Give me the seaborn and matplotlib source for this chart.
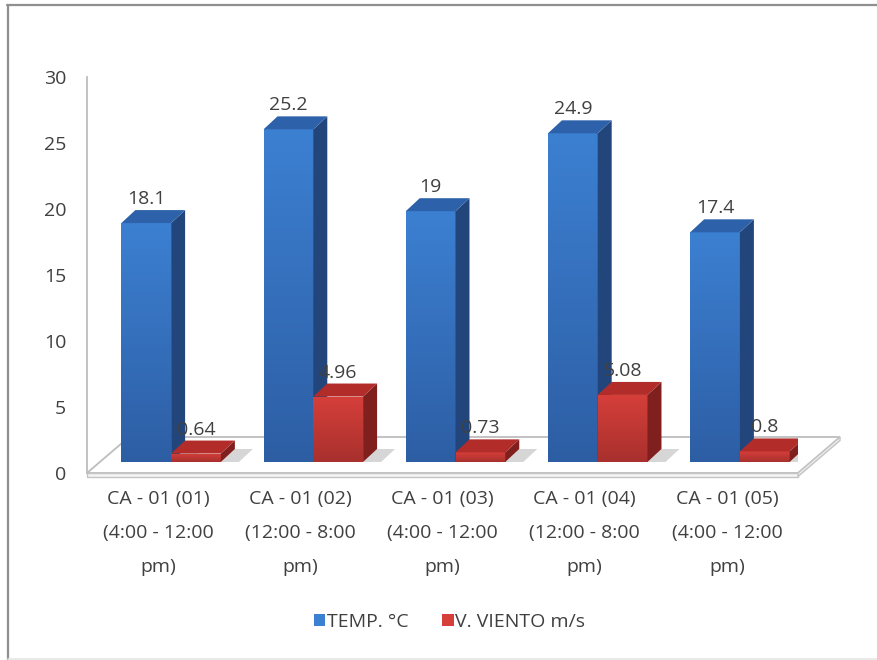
import numpy as np
import pandas as pd
import seaborn as sns
import matplotlib
matplotlib.use("Agg")
import matplotlib.pyplot as plt
import matplotlib.transforms as mtransforms
from matplotlib.patches import Polygon
from matplotlib.lines import Line2D
from matplotlib.colors import LinearSegmentedColormap

# ---- data ----
categorias = [
    "CA - 01 (01)\n(4:00 - 12:00\npm)",
    "CA - 01 (02)\n(12:00 - 8:00\npm)",
    "CA - 01 (03)\n(4:00 - 12:00\npm)",
    "CA - 01 (04)\n(12:00 - 8:00\npm)",
    "CA - 01 (05)\n(4:00 - 12:00\npm)",
]
series = ["TEMP. °C", "V. VIENTO m/s"]
temperatura = [18.1, 25.2, 19, 24.9, 17.4]
viento = [0.64, 4.96, 0.73, 5.08, 0.8]
yticks = [0, 5, 10, 15, 20, 25, 30]

df = pd.DataFrame({
    "categoria": categorias * 2,
    "serie": [series[0]] * len(categorias) + [series[1]] * len(categorias),
    "valor": temperatura + viento,
})

# ---- style ----
sns.set_theme(style="white")
plt.rcParams["font.family"] = ["Open Sans", "DejaVu Sans"]
TXT = "#404040"

# face colours: (front top, front bottom, side, top)
estilos = {
    series[0]: ("#3c80d2", "#2d5ea4", "#22467c", "#2d62aa"),
    series[1]: ("#d63f3a", "#a8302d", "#7f201e", "#b22c29"),
}

fig = plt.figure(figsize=(8.77, 6.6), dpi=100)
ax = fig.add_axes([87 / 877, (660 - 473) / 660, 711 / 877, 396 / 660])

sns.barplot(data=df, x="categoria", y="valor", hue="serie",
            palette=[estilos[s][0] for s in series], saturation=1,
            width=0.70, linewidth=0, ax=ax)

XLIM = (-0.5, 4.5)
YLIM = (0, 30)
px_x = 711 / (XLIM[1] - XLIM[0])   # pixels per category unit
px_y = 396 / (YLIM[1] - YLIM[0])   # pixels per value unit

# bars stand partway into the floor depth
shift = mtransforms.Affine2D().translate(13 / px_x, 11 / px_y) + ax.transData
dx, dy = 14 / px_x, 13 / px_y          # depth of each bar
fx, fy = 42 / px_x, 36 / px_y          # depth of the floor

# floor slab
floor_top = Polygon([(XLIM[0], 0), (XLIM[1], 0), (XLIM[1] + fx, fy), (XLIM[0] + fx, fy)],
                    closed=True, facecolor="white", edgecolor="#bdbdbd", lw=1.3,
                    transform=ax.transData, clip_on=False, zorder=1)
ax.add_patch(floor_top)
th = 3.5 / px_y
floor_front = Polygon([(XLIM[0], 0), (XLIM[1], 0), (XLIM[1], -th), (XLIM[0], -th)],
                      closed=True, facecolor="#f4f4f4", edgecolor="#c4c4c4", lw=1.0,
                      transform=ax.transData, clip_on=False, zorder=1)
ax.add_patch(floor_front)
floor_side = Polygon([(XLIM[1], 0), (XLIM[1] + fx, fy), (XLIM[1] + fx, fy - th), (XLIM[1], -th)],
                     closed=True, facecolor="#ececec", edgecolor="#c4c4c4", lw=1.0,
                     transform=ax.transData, clip_on=False, zorder=1)
ax.add_patch(floor_side)

grad = np.linspace(0, 1, 256).reshape(-1, 1)

for k, (serie, cont) in enumerate(zip(series, ax.containers)):
    c_top, c_bot, c_side, c_lid = estilos[serie]
    cmap = LinearSegmentedColormap.from_list(serie, [c_bot, c_top])
    for bar in cont:
        x0, w, h = bar.get_x(), bar.get_width(), bar.get_height()
        z = 3 + k
        # soft shadow on the floor
        sw = 18 / px_x
        sh = Polygon([(x0 + w, 0), (x0 + w + sw, 0), (x0 + w + sw + dx, dy), (x0 + w + dx, dy)],
                     closed=True, facecolor="#d6d6d6", edgecolor="none",
                     transform=shift, zorder=2)
        ax.add_patch(sh)
        bar.set_transform(shift)
        bar.set_zorder(z)
        im = ax.imshow(grad, extent=(x0, x0 + w, 0, h), origin="lower", cmap=cmap,
                       aspect="auto", transform=shift, zorder=z + 0.01,
                       interpolation="bilinear")
        im.set_clip_path(bar)
        side = Polygon([(x0 + w, 0), (x0 + w + dx, dy), (x0 + w + dx, h + dy), (x0 + w, h)],
                       closed=True, facecolor=c_side, edgecolor="none",
                       transform=shift, zorder=z + 0.02)
        ax.add_patch(side)
        lid = Polygon([(x0, h), (x0 + w, h), (x0 + w + dx, h + dy), (x0 + dx, h + dy)],
                      closed=True, facecolor=c_lid, edgecolor="none",
                      transform=shift, zorder=z + 0.03)
        ax.add_patch(lid)
        ax.annotate(f"{h:g}", xy=(x0 + w / 2, h), xycoords=shift,
                    xytext=(0, 13.7), textcoords="offset points",
                    ha="center", va="baseline", fontsize=14, color=TXT, zorder=10)

# ---- axes ----
ax.set_xlim(*XLIM)
ax.set_ylim(*YLIM)
ax.set_facecolor("none")
ax.set_xlabel("")
ax.set_ylabel("")
ax.set_yticks(yticks)
ax.set_yticklabels([str(t) for t in yticks])
ax.set_xticks(range(len(categorias)))
ax.set_xticklabels(categorias, linespacing=2.15)
ax.tick_params(axis="y", length=0, pad=15, labelsize=14, labelcolor=TXT)
ax.tick_params(axis="x", length=0, pad=12, labelsize=14, labelcolor=TXT)
for s in ["top", "right", "bottom"]:
    ax.spines[s].set_visible(False)
ax.spines["left"].set_color("#bdbdbd")
ax.spines["left"].set_linewidth(1.3)

leg = ax.get_legend()
handles = leg.legend_handles
labels = [t.get_text() for t in leg.get_texts()]
leg.remove()
ax.legend(handles, labels, loc="center", bbox_to_anchor=(449.5 / 877, (660 - 622) / 660),
          bbox_transform=fig.transFigure, ncol=2, frameon=False, fontsize=14,
          handlelength=0.6, handleheight=0.6, handletextpad=0.1, columnspacing=1.7,
          labelcolor=TXT)

# ---- outer frame ----
fig.add_artist(Line2D([7 / 877, 1], [1 - 4.5 / 660] * 2, transform=fig.transFigure,
                      color="#8f8f8f", lw=1.6))
fig.add_artist(Line2D([8 / 877] * 2, [0, 1 - 4.5 / 660], transform=fig.transFigure,
                      color="#8f8f8f", lw=1.6))
fig.add_artist(Line2D([8 / 877, 1], [1.5 / 660] * 2, transform=fig.transFigure,
                      color="#e6e6e6", lw=1.2))

fig.savefig("out.png", dpi=100, facecolor="white")
